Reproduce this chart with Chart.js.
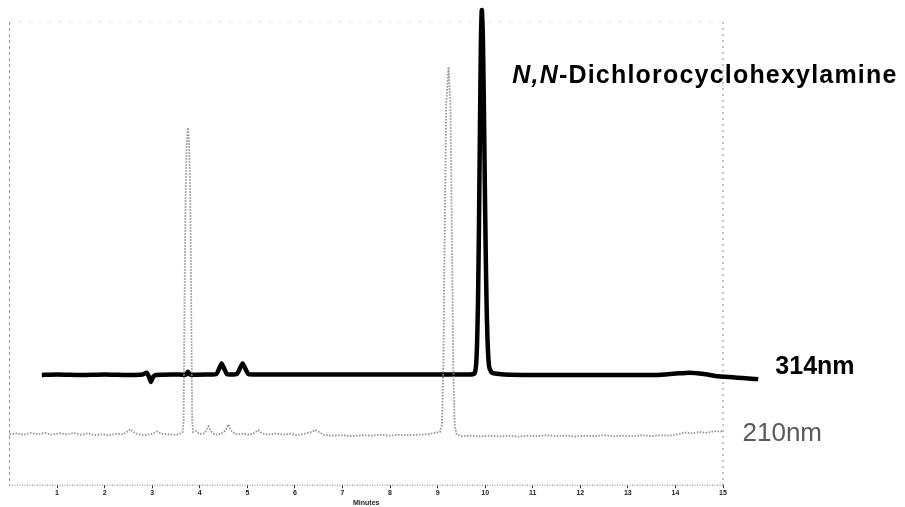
<!DOCTYPE html>
<html>
<head>
<meta charset="utf-8">
<script src="https://cdn.jsdelivr.net/npm/chart.js@4.4.1/dist/chart.umd.min.js"></script>
<style>
  html, body { margin: 0; padding: 0; background: #fff; }
  #wrap { width: 905px; height: 507px; position: relative; }
</style>
</head>
<body>
<div id="wrap"><canvas id="c"></canvas></div>
<script>
// ---- data (minutes, arbitrary detector units) ----
const tickLabels = ['1','2','3','4','5','6','7','8','9','10','11','12','13','14','15'];

const uv314Time = [0.68,1.0,1.5,2.0,2.5,2.8,2.88,2.93,2.97,3.02,3.08,3.5,3.71,3.75,3.79,4.2,4.35,4.40,4.46,4.52,4.57,4.63,4.78,4.84,4.90,4.96,5.02,5.1,6.0,7.0,8.0,9.0,9.5,9.70,9.78,9.81,9.83,9.85,9.87,9.89,9.91,9.93,9.95,9.97,9.99,10.01,10.03,10.05,10.08,10.13,10.2,10.4,11.0,12.0,13.0,13.6,14.0,14.3,14.6,14.9,15.74];
const uv314Signal = [23.8,23.9,23.8,23.9,23.8,23.9,24.3,23.5,22.3,23.4,23.8,23.9,23.9,24.5,23.9,23.9,24.0,25.0,26.3,25.0,24.0,23.9,24.0,25.1,26.3,25.1,24.0,23.9,23.9,23.9,23.9,23.9,23.9,23.9,24.2,26.1,30.6,40.1,56.2,76.9,95.2,102.6,97.6,84.3,67.3,51.2,38.9,31.2,25.8,24.4,24.1,23.9,23.8,23.8,23.8,23.8,24.1,24.3,24.0,23.5,22.9];

const uv210Time = [0.00,0.15,0.30,0.45,0.60,0.75,0.90,1.05,1.20,1.35,1.50,1.65,1.80,1.95,2.10,2.25,2.40,2.48,2.54,2.60,2.70,2.85,3.00,3.10,3.20,3.35,3.50,3.60,3.64,3.66,3.68,3.70,3.725,3.75,3.775,3.80,3.82,3.84,3.86,3.92,4.00,4.10,4.18,4.24,4.32,4.45,4.54,4.60,4.66,4.75,4.90,5.05,5.15,5.23,5.30,5.45,5.60,5.75,5.90,6.05,6.20,6.35,6.43,6.52,6.62,6.80,7.00,7.20,7.40,7.60,7.80,8.00,8.20,8.40,8.60,8.80,8.95,9.05,9.09,9.12,9.15,9.18,9.23,9.27,9.30,9.33,9.36,9.40,9.50,9.70,9.90,10.10,10.30,10.50,10.70,10.90,11.10,11.30,11.50,11.70,11.90,12.10,12.30,12.50,12.70,12.90,13.10,13.30,13.50,13.70,13.90,14.05,14.20,14.35,14.50,14.65,14.80,15.00];
const uv210Signal = [11.0,11.2,10.9,11.3,11.0,11.3,10.9,11.2,11.0,11.3,10.9,11.2,10.8,11.0,10.8,11.1,11.0,11.6,12.1,11.5,11.0,10.8,11.1,11.6,11.1,11.0,10.9,11.2,11.4,14,40,62,74,77.2,74,62,40,14,11.5,11.7,11.0,11.2,12.7,11.6,10.9,11.1,11.8,13.1,11.8,11.0,11.1,10.9,11.3,11.9,11.2,10.9,11.2,10.9,11.1,10.8,11.1,11.5,11.9,11.4,10.8,10.7,10.8,10.6,10.8,10.7,10.9,10.7,10.9,10.8,10.9,11.0,11.3,11.5,13,25,55,82,90.3,82,55,25,13,11.0,10.6,10.7,10.5,10.7,10.5,10.7,10.5,10.7,10.6,10.8,10.6,10.7,10.5,10.7,10.6,10.8,10.6,10.7,10.6,10.8,10.6,10.8,10.7,11.0,11.4,11.2,11.5,11.3,11.6,11.6];

const compoundParts = [['N,N', 'italic bold'], ['-Dichlorocyclohexylamine', 'bold']];
const trace314Label = '314nm';
const trace210Label = '210nm';
const axisTitle = 'Minutes';

const toXY = (xs, ys) => xs.map((x, i) => ({ x: x, y: ys[i] }));

// frame around the 0..15 min window
const framePlugin = {
  id: 'frame',
  beforeDatasetsDraw(chart) {
    const { ctx, scales: { x, y } } = chart;
    const l = x.getPixelForValue(0), r = x.getPixelForValue(15);
    const t = y.getPixelForValue(100), b = y.getPixelForValue(0);
    ctx.save();
    ctx.lineWidth = 1;
    ctx.strokeStyle = '#9a9a9a'; ctx.setLineDash([3, 3]);
    ctx.beginPath(); ctx.moveTo(l, t); ctx.lineTo(l, b); ctx.stroke();
    ctx.strokeStyle = '#b0b0b0'; ctx.setLineDash([1, 9]);
    ctx.beginPath(); ctx.moveTo(l, t); ctx.lineTo(r, t); ctx.stroke();
    ctx.strokeStyle = '#8a8a8a'; ctx.setLineDash([2, 4]);
    ctx.beginPath(); ctx.moveTo(r, t); ctx.lineTo(r, b); ctx.stroke();
    ctx.strokeStyle = '#7a7a7a'; ctx.setLineDash([1, 1.5]);
    ctx.beginPath(); ctx.moveTo(l, b); ctx.lineTo(r, b); ctx.stroke();
    ctx.restore();
  }
};

// text labels anchored to data coordinates
const labelPlugin = {
  id: 'labels',
  afterDatasetsDraw(chart) {
    const { ctx, scales: { x, y } } = chart;
    ctx.save();
    ctx.textBaseline = 'alphabetic';
    ctx.textAlign = 'left';
    let px = x.getPixelForValue(10.57);
    const py = y.getPixelForValue(86.9);
    ctx.fillStyle = '#000';
    try { ctx.letterSpacing = '1.2px'; } catch (e) {}
    compoundParts.forEach(([txt, style]) => {
      ctx.font = style + ' 25px "Liberation Sans", Arial, sans-serif';
      ctx.fillText(txt, px, py);
      px += ctx.measureText(txt).width;
    });
    try { ctx.letterSpacing = '0px'; } catch (e) {}
    ctx.font = 'bold 25px "Liberation Sans", Arial, sans-serif';
    ctx.fillText(trace314Label, x.getPixelForValue(16.1), y.getPixelForValue(23.9));
    ctx.fillStyle = '#5a5a5a';
    ctx.font = '26px "Liberation Sans", Arial, sans-serif';
    ctx.fillText(trace210Label, x.getPixelForValue(15.41), y.getPixelForValue(9.5));
    ctx.restore();
  }
};

new Chart(document.getElementById('c'), {
  type: 'line',
  data: {
    datasets: [
      {
        label: trace210Label,
        data: toXY(uv210Time, uv210Signal),
        borderColor: '#939393',
        borderWidth: 1.8,
        borderDash: [1.5, 1.5],
        pointRadius: 0,
        tension: 0,
        clip: false
      },
      {
        label: trace314Label,
        data: toXY(uv314Time, uv314Signal),
        borderColor: '#000',
        borderWidth: 4.5,
        pointRadius: 0,
        tension: 0.2,
        clip: false
      }
    ]
  },
  options: {
    responsive: true,
    maintainAspectRatio: false,
    animation: false,
    layout: { padding: { left: 9.5, top: 22, right: 182, bottom: 0 } },
    plugins: { legend: { display: false }, tooltip: { enabled: false } },
    scales: {
      x: {
        type: 'linear',
        min: 0,
        max: 15,
        border: { display: false },
        grid: {
          drawOnChartArea: false,
          tickLength: 3,
          tickColor: (c) => (c.tick && c.tick.value === 0 ? 'rgba(0,0,0,0)' : '#333')
        },
        ticks: {
          stepSize: 1,
          autoSkip: false,
          maxRotation: 0,
          padding: 1,
          color: '#222',
          font: { size: 7, weight: 'bold', family: '"Liberation Sans", Arial, sans-serif' },
          callback: (v) => (v >= 1 && v <= 15 ? tickLabels[v - 1] : '')
        },
        title: {
          display: true,
          text: axisTitle,
          color: '#222',
          padding: { top: 0, bottom: 0 },
          font: { size: 7, weight: 'bold', family: '"Liberation Sans", Arial, sans-serif' }
        }
      },
      y: {
        type: 'linear',
        display: false,
        min: 0,
        max: 100
      }
    }
  },
  plugins: [framePlugin, labelPlugin]
});
</script>
</body>
</html>
